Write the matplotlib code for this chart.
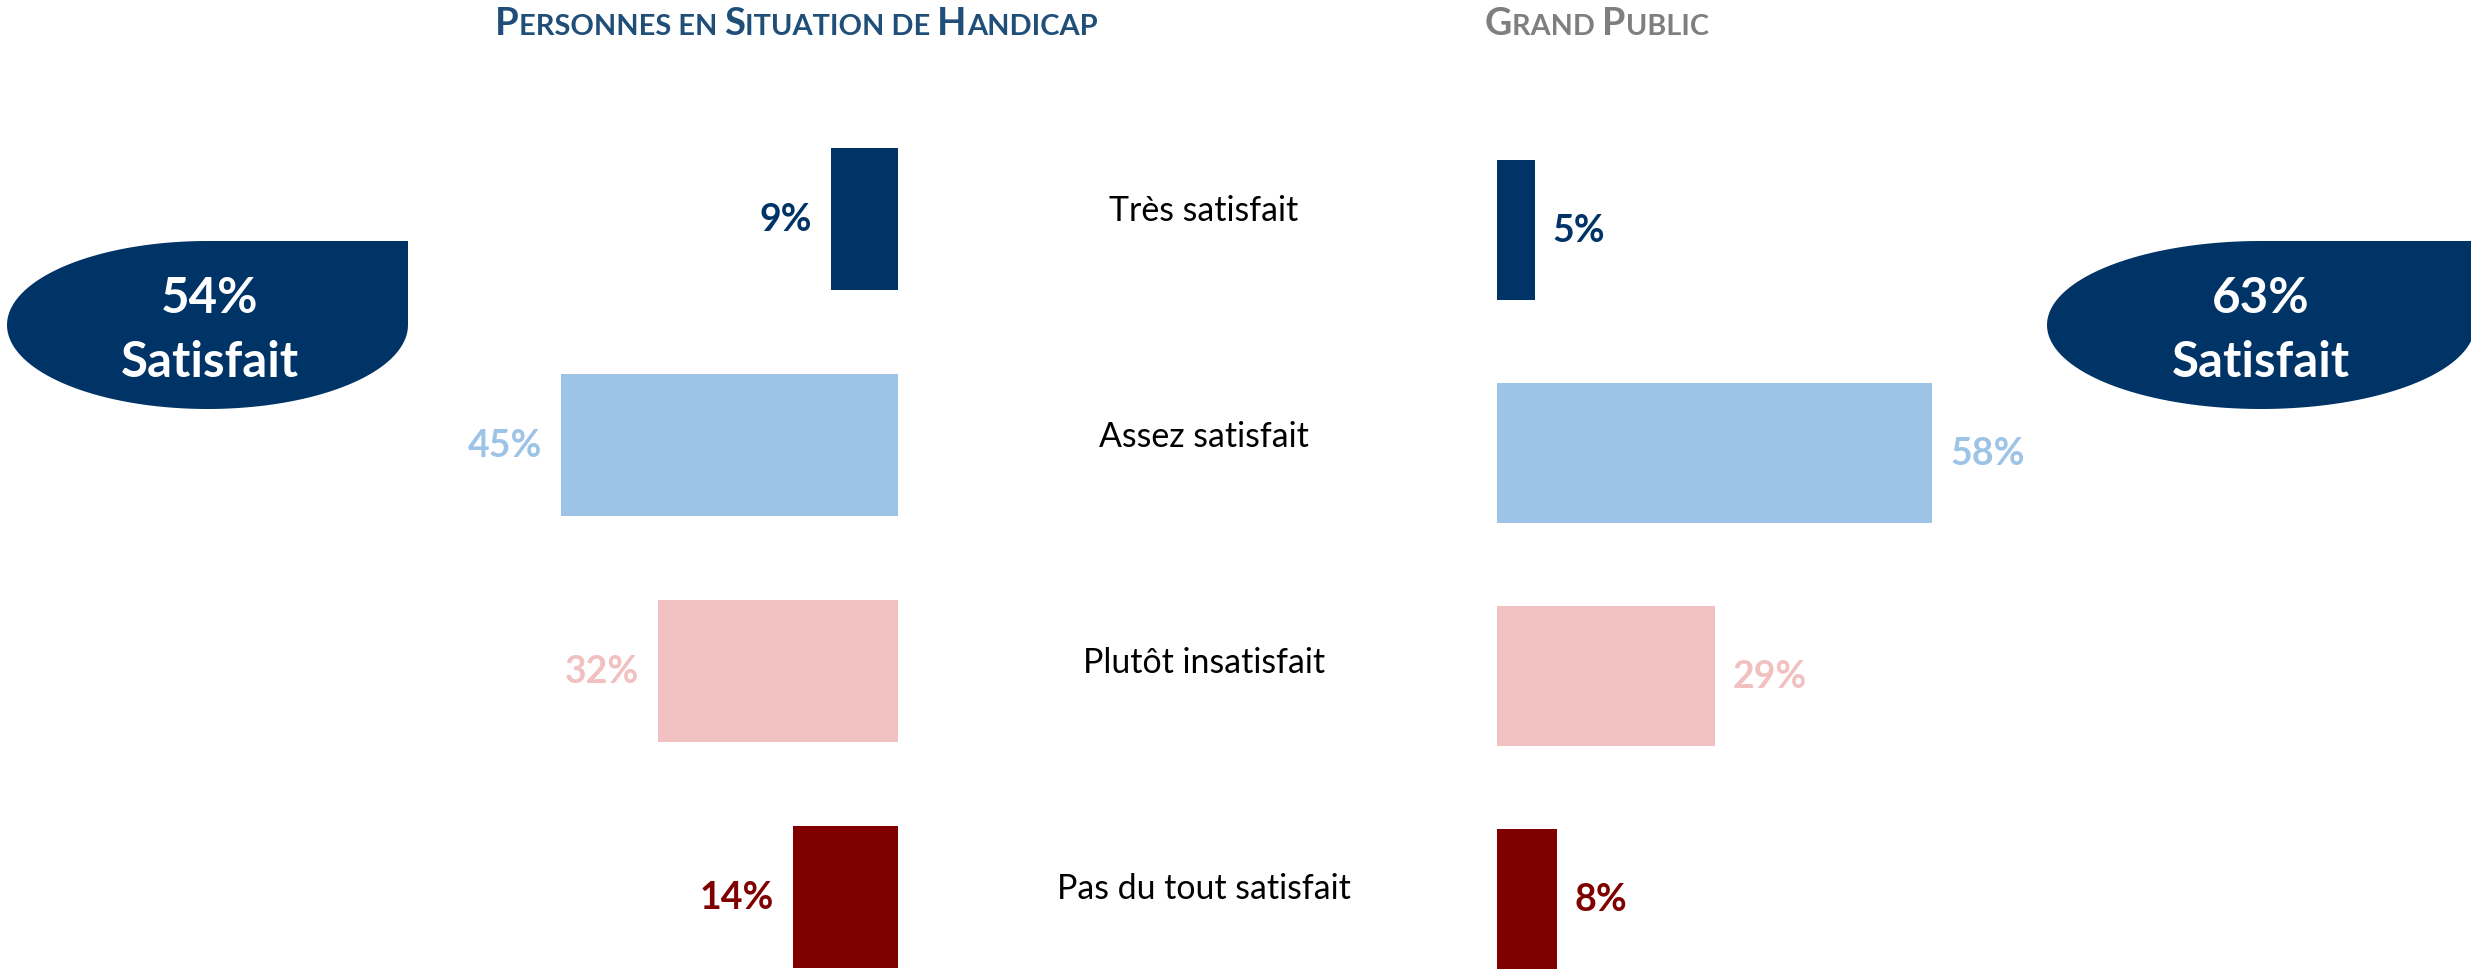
import numpy as np
from matplotlib import pyplot as plt
from matplotlib.patches import Polygon
from matplotlib import transforms
from matplotlib.font_manager import FontProperties

plt.rcParams['font.family'] = ['Lato', 'DejaVu Sans']

# data
categories = ["Très satisfait", "Assez satisfait", "Plutôt insatisfait", "Pas du tout satisfait"]
handicap = [9, 45, 32, 14]
grand_public = [5, 58, 29, 8]
bar_colors = ["#003366", "#9DC3E6", "#F1C0C0", "#800000"]
total_handicap = "54%"
total_public = "63%"

W, H = 2471, 970
fig = plt.figure(figsize=(W/100, H/100), dpi=100)

# px per percent ~7.5
ppp = 7.5
# left panel: bars grow to the left from x=898 px
axL = fig.add_axes([(898 - 60*ppp)/W, 0, 60*ppp/W, 1])
axL.barh(range(4), handicap, height=0.63, color=bar_colors)
axL.set_xlim(60, 0)
axL.set_ylim((970-220)/226, -220/226)
axL.axis('off')
for i, v in enumerate(handicap):
    axL.text(v + 2.5, i, f"{v}%", ha='right', va='center', fontsize=27,
             fontweight='bold', color=bar_colors[i])

# right panel
axR = fig.add_axes([1497/W, 0, 70*ppp/W, 1])
axR.barh(range(4), grand_public, height=0.63, color=bar_colors)
axR.set_xlim(0, 70)
axR.set_ylim((970-231)/223, -231/223)
axR.axis('off')
for i, v in enumerate(grand_public):
    axR.text(v + 2.4, i, f"{v}%", ha='left', va='center', fontsize=27,
             fontweight='bold', color=bar_colors[i])

# category labels in the middle
trans = transforms.blended_transform_factory(fig.transFigure, axL.transData)
for i, c in enumerate(categories):
    fig.text(1204/W, i - 0.04, c, transform=trans, ha='center', va='center',
             fontsize=24.4, color='black')

# overlay in pixel coords for badges and titles
ov = fig.add_axes([0, 0, 1, 1])
ov.set_xlim(0, W)
ov.set_ylim(H, 0)
ov.axis('off')
ov.patch.set_visible(False)


def teardrop(x0, y0, x1, y1):
    cx, cy = (x0 + x1)/2, (y0 + y1)/2
    a, b = (x1 - x0)/2, (y1 - y0)/2
    t = np.radians(np.linspace(0, 270, 120))
    pts = [(cx, y0), (x1, y0), (x1, cy)] + list(zip(cx + a*np.cos(t), cy + b*np.sin(t)))
    return Polygon(pts, closed=True, facecolor="#003366", edgecolor='none')


ov.add_patch(teardrop(7, 242, 408, 410))
ov.add_patch(teardrop(2047, 242, 2475, 410))
for x, pct in [(210, total_handicap), (2261, total_public)]:
    ov.text(x, 313, pct, ha='center', va='baseline', fontsize=35.5, fontweight='bold', color='white')
    ov.text(x, 377, "Satisfait", ha='center', va='baseline', fontsize=35.5, fontweight='bold', color='white')

# small caps titles
r = fig.canvas.get_renderer()


def width(s, fp):
    w1 = r.get_text_width_height_descent(s + "x", fp, ismath=False)[0]
    w2 = r.get_text_width_height_descent("x", fp, ismath=False)[0]
    return w1 - w2


def smallcaps(x, y, s, size, color):
    runs = []
    for ch in s:
        big = ch.isupper()
        if ch == " " and runs:
            big = runs[-1][1]
        if runs and runs[-1][1] == big:
            runs[-1][0] += ch.upper()
        else:
            runs.append([ch.upper(), big])
    for txt, big in runs:
        fs = size if big else size*0.76
        fp = FontProperties(family='Lato', weight='bold', size=fs)
        ov.text(x, y, txt, fontproperties=fp, color=color, ha='left', va='baseline')
        x += width(txt, fp)


smallcaps(495, 35, "Personnes en Situation de Handicap", 27.5, "#1F4E79")
smallcaps(1485, 35, "Grand Public", 27.2, "#7F7F7F")

fig.savefig("out.png", dpi=100, facecolor='white')
